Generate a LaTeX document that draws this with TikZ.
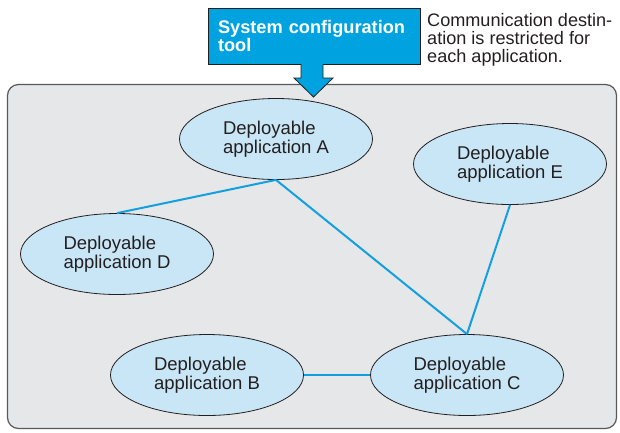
\documentclass[tikz,border=0pt]{standalone}
\usepackage{fontspec}
\setmainfont{Liberation Sans}
\usetikzlibrary{shapes.geometric}
\definecolor{panelfill}{HTML}{E6E7E8}
\definecolor{paneldraw}{HTML}{58595B}
\definecolor{toolblue}{HTML}{00A3E0}
\definecolor{ellfill}{HTML}{C9E6F6}
\definecolor{linkblue}{HTML}{12A0E0}
\definecolor{textdark}{HTML}{231F20}
\begin{document}
\begin{tikzpicture}[x=1pt,y=-1pt,
  app/.style={ellipse, draw=textdark, line width=0.8pt, fill=ellfill,
    minimum width=193pt, minimum height=81pt, inner sep=0pt,
    align=left, text=textdark, font=\fontsize{18.5}{18.5}\selectfont},
  link/.style={draw=linkblue, line width=2pt},
  toolbox/.style={rectangle, draw=textdark, line width=0.8pt, fill=toolblue,
    minimum width=212pt, minimum height=56pt, text width=192pt, inner xsep=10pt,
    align=left, text=white, font=\fontsize{18.2}{18}\selectfont\bfseries},
  note/.style={anchor=north west, inner sep=0pt, align=left, text=textdark,
    font=\fontsize{18.1}{18}\selectfont}]
\useasboundingbox (0,0) rectangle (620,432);
% panel
\draw[fill=panelfill, draw=paneldraw, line width=1.2pt, rounded corners=11pt]
  (7.5,84.5) rectangle (616.5,428.5);
% tool box
\node[toolbox] (tool) at (314,36) {System configuration\\tool};
% block arrow
\draw[fill=toolblue, draw=textdark, line width=0.8pt]
  (301,64) -- (301,78) -- (294,78) -- (313.5,97) -- (333,78) -- (323,78) -- (323,64);
% note
\node[note] (note) at (427,13.5) {Communication destin-\\ation is restricted for\\each application.};
% applications
\node[app] (A) at (276,139) {Deployable\\application A};
\node[app] (D) at (117,254) {Deployable\\application D};
\node[app] (E) at (510,164) {Deployable\\application E};
\node[app] (B) at (207,375) {Deployable\\application B};
\node[app] (C) at (467,375) {Deployable\\application C};
% links
\draw[link] (A.south) -- (D.north);
\draw[link] (A.south) -- (C.north);
\draw[link] (E.south) -- (C.north);
\draw[link] (B.east) -- (C.west);
\end{tikzpicture}
\end{document}
